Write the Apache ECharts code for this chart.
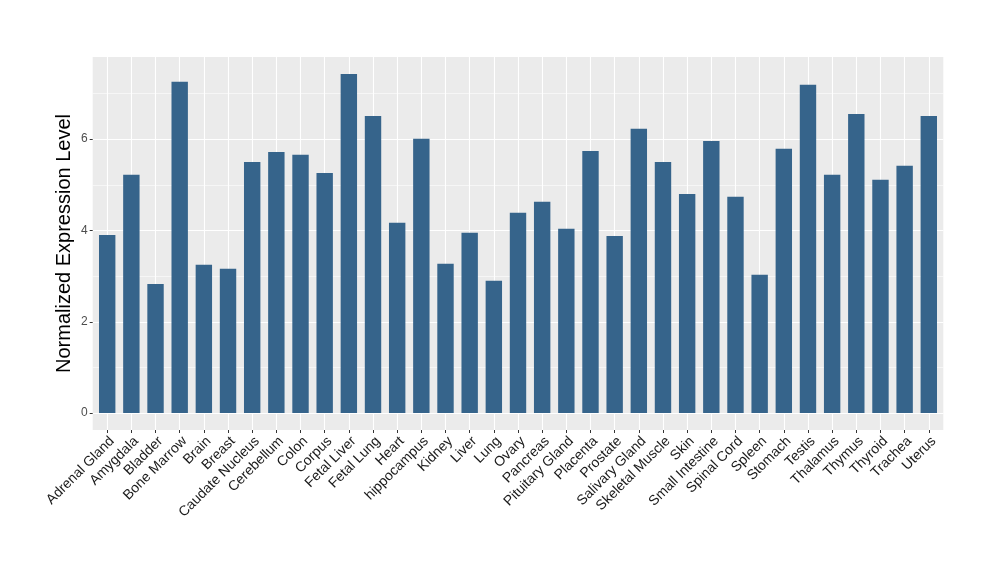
<!DOCTYPE html>
<html><head><meta charset="utf-8">
<script src="https://cdn.jsdelivr.net/npm/echarts@6/dist/echarts.min.js"></script>
<style>html,body{margin:0;padding:0;background:#fff}#c{width:1000px;height:580px}</style>
</head><body><div id="c"></div>
<script>
const categories = ["Adrenal Gland","Amygdala","Bladder","Bone Marrow","Brain","Breast","Caudate Nucleus","Cerebellum","Colon","Corpus","Fetal Liver","Fetal Lung","Heart","hippocampus","Kidney","Liver","Lung","Ovary","Pancreas","Pituitary Gland","Placenta","Prostate","Salivary Gland","Skeletal Muscle","Skin","Small Intestine","Spinal Cord","Spleen","Stomach","Testis","Thalamus","Thymus","Thyroid","Trachea","Uterus"];
const values = [3.90,5.22,2.83,7.26,3.25,3.16,5.50,5.72,5.66,5.26,7.43,6.51,4.17,6.01,3.27,3.95,2.90,4.39,4.63,4.04,5.74,3.88,6.23,5.50,4.80,5.96,4.74,3.03,5.79,7.19,5.22,6.55,5.11,5.42,6.51];
const yMajorTicks = [0,2,4,6];
const yMinorTicks = [1,3,5,7];
const yTitle = "Normalized Expression Level";

const idx = categories.map((c,i)=>i);
const chart = echarts.init(document.getElementById('c'));
chart.setOption({
  animation:false,
  grid:{left:92.7,right:56.7,top:57,bottom:150,show:true,backgroundColor:'#EBEBEB',borderWidth:0,containLabel:false},
  xAxis:{type:'value',min:-0.6,max:categories.length-0.4,
    axisLine:{show:false,onZero:false},
    axisTick:{show:true,customValues:idx,length:3,lineStyle:{color:'#333333',width:1}},
    axisLabel:{customValues:idx,rotate:45,margin:4,verticalAlign:'top',fontSize:14,color:'#1a1a1a',fontFamily:'Liberation Sans, Arial, sans-serif',
      formatter:v=>categories[Math.round(v)]},
    splitLine:{show:true,lineStyle:{color:'#FFFFFF',width:1.1}}
  },
  yAxis:[{type:'value',min:-0.371,max:7.80,
    name:yTitle,nameLocation:'middle',nameGap:18,nameMoveOverlap:false,
    nameTextStyle:{fontSize:20,color:'#000',fontFamily:'Liberation Sans, Arial, sans-serif'},
    axisLine:{show:false,onZero:false},
    axisTick:{show:true,customValues:yMajorTicks,length:3,lineStyle:{color:'#333333',width:1}},
    axisLabel:{customValues:yMajorTicks,margin:5,fontSize:12,color:'#4d4d4d',fontFamily:'Liberation Sans, Arial, sans-serif'},
    splitLine:{show:true,lineStyle:{color:'#FFFFFF',width:1.1}}
  },{type:'value',min:-0.371,max:7.80,position:'left',
    axisLine:{show:false,onZero:false},
    axisTick:{show:false,customValues:yMinorTicks},
    axisLabel:{show:false,customValues:yMinorTicks},
    splitLine:{show:true,lineStyle:{color:'#FFFFFF',width:0.55}}
  }],
  series:[{type:'bar',xAxisIndex:0,yAxisIndex:0,barWidth:16.4,
    itemStyle:{color:'#36648B'},
    data:values.map((v,i)=>[i,v])}]
});
</script></body></html>
